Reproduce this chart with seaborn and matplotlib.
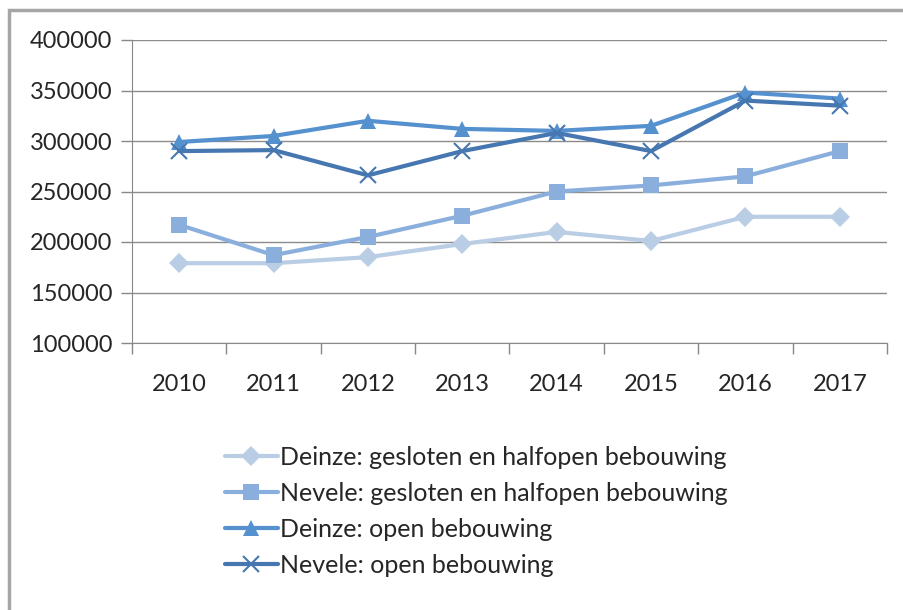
import numpy as np
import pandas as pd
import seaborn as sns
from matplotlib import pyplot as plt
from matplotlib.patches import Rectangle
from matplotlib.ticker import FixedLocator

years = [2010, 2011, 2012, 2013, 2014, 2015, 2016, 2017]
deinze_gesloten = [179000, 179000, 185000, 198000, 210000, 201000, 225000, 225000]
nevele_gesloten = [217000, 187000, 205000, 226000, 250000, 256000, 265000, 290000]
deinze_open = [299000, 305000, 320000, 312000, 310000, 315000, 348000, 342000]
nevele_open = [290000, 291000, 266000, 290000, 308000, 290000, 340000, 335000]

series_names = ["Deinze: gesloten en halfopen bebouwing",
                "Nevele: gesloten en halfopen bebouwing",
                "Deinze: open bebouwing",
                "Nevele: open bebouwing"]
series_values = [deinze_gesloten, nevele_gesloten, deinze_open, nevele_open]
colors = ["#B9CDE5", "#8AAFDD", "#5590CF", "#4677B0"]
markers = ["D", "s", "^", "x"]
marker_sizes = [10, 11, 11, 12]

sns.set_style("white")
plt.rcParams['font.family'] = ['Lato', 'DejaVu Sans']

fig = plt.figure(figsize=(9.04, 6.10), dpi=100)
ax = fig.add_axes([132 / 904, 1 - 343 / 610, 755 / 904, 303 / 610])

positions = list(range(len(years)))
for name, vals, c, m, ms in zip(series_names, series_values, colors, markers, marker_sizes):
    if m == "x":
        style = dict(markeredgewidth=1.5, markeredgecolor=c)
    else:
        style = dict(markeredgewidth=0)
    sns.lineplot(x=positions, y=vals, color=c, marker=m, markersize=ms,
                 linewidth=3, label=name, ax=ax, legend=False, **style)

ax.set_xlim(-0.5, 7.5)
ax.set_ylim(100000, 400000)
ax.set_yticks(np.arange(100000, 400001, 50000))
ax.set_yticklabels([str(v) for v in range(100000, 400001, 50000)])
ax.set_xticks(positions)
ax.set_xticklabels([str(y) for y in years])
ax.xaxis.set_minor_locator(FixedLocator(np.arange(-0.5, 8, 1)))
ax.tick_params(axis="x", which="major", length=0, pad=22, labelsize=17)
ax.tick_params(axis="x", which="minor", length=8, color="#888888", width=1, bottom=True)
ax.tick_params(axis="y", length=8, color="#888888", width=1, pad=6, labelsize=17, left=True)
ax.set_xlabel("")
ax.set_ylabel("")

ax.grid(axis="y", color="#8C8C8C", linewidth=1)
ax.set_axisbelow(True)
for s in ["top", "right"]:
    ax.spines[s].set_visible(False)
ax.spines["left"].set_color("#888888")
ax.spines["bottom"].set_color("#888888")

handles = ax.get_lines()[:4]
fig.legend(handles, series_names, loc="upper left",
           bbox_to_anchor=(215 / 904, 1 - 436 / 610), frameon=False,
           fontsize=18, handlelength=2.1, handletextpad=0.12,
           labelspacing=0.52, numpoints=1, borderaxespad=0)

fig.patches.append(Rectangle((9 / 904, -0.1), 1.2, 1 - 10 / 610 + 0.1,
                             transform=fig.transFigure, fill=False,
                             edgecolor="#A6A6A6", linewidth=2.5))

fig.savefig("out.png", dpi=100)
